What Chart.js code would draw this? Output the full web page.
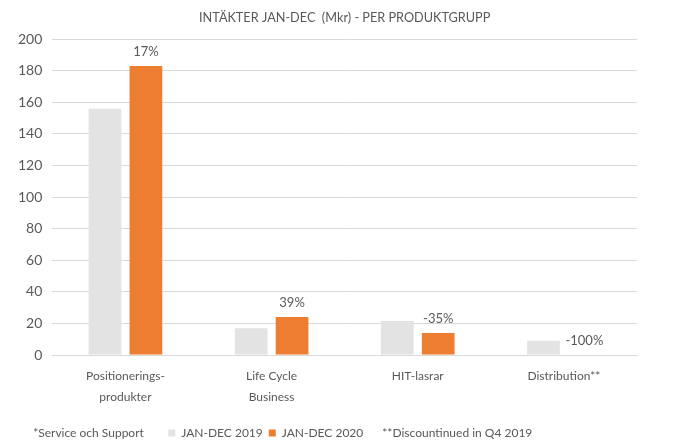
<!DOCTYPE html>
<html>
<head>
<meta charset="utf-8">
<script src="https://cdn.jsdelivr.net/npm/chart.js@4/dist/chart.umd.min.js"></script>
<style>
  body { margin: 0; background: #fff; }
  #wrap { width: 675px; height: 440px; }
</style>
</head>
<body>
<div id="wrap"><canvas id="myChart"></canvas></div>
<script>
const categories = [['Positionerings-', 'produkter'], ['Life Cycle', 'Business'], 'HIT-lasrar', 'Distribution**'];
const sales2019 = [156, 17, 21.5, 9];
const sales2020 = [183, 24, 14, 0];
const changeLabels = ['17%', '39%', '-35%', '-100%'];
const yTicks = [0, 20, 40, 60, 80, 100, 120, 140, 160, 180, 200];

const fontFamily = 'Lato, "Open Sans", sans-serif';
const textColor = '#595959';

// percentage change above the orange bars
const changePlugin = {
    id: 'changeLabels',
    afterDatasetsDraw(chart) {
        const c = chart.ctx;
        const meta = chart.getDatasetMeta(1);
        c.save();
        c.font = '13px ' + fontFamily;
        c.fillStyle = textColor;
        c.textAlign = 'center';
        c.textBaseline = 'bottom';
        meta.data.forEach((bar, i) => {
            c.fillText(changeLabels[i], bar.x, bar.y - 8);
        });
        c.restore();
    }
};

const ctx = document.getElementById('myChart').getContext('2d');

const data = {
    labels: categories,
    datasets: [{
        label: 'JAN-DEC 2019',
        data: sales2019,
        backgroundColor: '#e3e3e3'
    }, {
        label: 'JAN-DEC 2020',
        data: sales2020,
        backgroundColor: '#ed7d31'
    }]
};

const config = {
    type: 'bar',
    data: data,
    plugins: [changePlugin],
    options: {
        responsive: true,
        maintainAspectRatio: false,
        animation: false,
        categoryPercentage: 0.56,
        barPercentage: 0.8,
        layout: { padding: { left: 8, right: 38, top: 4, bottom: -9 } },
        plugins: {
            title: {
                display: true,
                fullSize: false,
                text: 'INTÄKTER JAN-DEC  (Mkr) - PER PRODUKTGRUPP',
                color: textColor,
                font: { family: fontFamily, size: 12.7, weight: 'normal' },
                padding: { top: 6, bottom: 14 }
            },
            tooltip: { enabled: false },
            legend: {
                position: 'bottom',
                align: 'start',
                labels: {
                    color: textColor,
                    font: { family: fontFamily, size: 12 },
                    boxWidth: 7,
                    boxHeight: 7,
                    padding: 6,
                    generateLabels(chart) {
                        const items = Chart.defaults.plugins.legend.labels.generateLabels(chart);
                        const blank = (t) => ({
                            text: t, fillStyle: 'rgba(0,0,0,0)', strokeStyle: 'rgba(0,0,0,0)',
                            lineWidth: 0, hidden: false, datasetIndex: -1, fontColor: textColor
                        });
                        items.forEach(it => { it.lineWidth = 0; });
                        return [blank('  *Service och Support      '), ...items, blank('**Discountinued in Q4 2019')];
                    }
                }
            }
        },
        scales: {
            x: {
                grid: { display: false },
                border: { color: '#d9d9d9' },
                afterFit(axis) { axis.height += 10; },
                ticks: {
                    color: textColor,
                    font: { family: fontFamily, size: 12, lineHeight: 1.75 },
                    maxRotation: 0,
                    padding: 3
                }
            },
            y: {
                min: 0,
                max: 200,
                afterBuildTicks(axis) {
                    axis.ticks = yTicks.map(v => ({ value: v }));
                },
                grid: { color: '#d9d9d9', drawTicks: false },
                border: { display: false },
                ticks: {
                    color: textColor,
                    font: { family: fontFamily, size: 14 },
                    padding: 10
                }
            }
        }
    }
};

const myChart = new Chart(ctx, config);
</script>
</body>
</html>
